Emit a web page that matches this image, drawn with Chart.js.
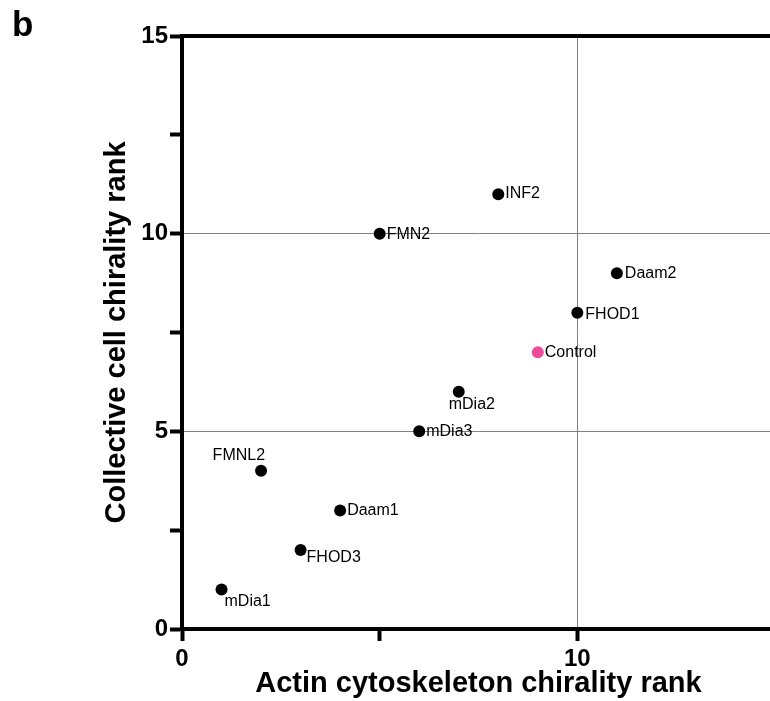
<!DOCTYPE html>
<html>
<head>
<meta charset="utf-8">
<script src="https://cdn.jsdelivr.net/npm/chart.js@4/dist/chart.umd.min.js"></script>
<style>
    html, body { margin: 0; padding: 0; background: #fff; overflow: hidden; }
    #wrap { width: 781px; height: 701px; }
</style>
</head>
<body>
<div id="wrap"><canvas id="myChart" width="781" height="701"></canvas></div>
<script>
const formins = ['mDia1', 'FMNL2', 'FHOD3', 'Daam1', 'FMN2', 'mDia3', 'mDia2', 'INF2', 'Control', 'FHOD1', 'Daam2'];
const actinRank = [1, 2, 3, 4, 5, 6, 7, 8, 9, 10, 11];
const cellRank = [1, 4, 2, 3, 10, 5, 6, 11, 7, 8, 9];
const xTickLabels = {0: '0', 10: '10'};
const yTickLabels = {0: '0', 5: '5', 10: '10', 15: '15'};

// where each name sits relative to its dot: dx, dy, align
const labelSpots = [
    [3, 12, 'left'], [4, -15, 'right'], [6, 8, 'left'], [7, 0, 'left'],
    [7, 1, 'left'], [7, 0, 'left'], [-10, 13, 'left'], [7, -1, 'left'],
    [7, 0, 'left'], [8, 2, 'left'], [8, 0, 'left']
];

const FONT = '"Liberation Sans", Arial, Helvetica, sans-serif';
Chart.defaults.font.family = FONT;
Chart.defaults.color = '#000';

const points = actinRank.map((x, i) => ({x: x, y: cellRank[i]}));

const nameLabels = {
    id: 'nameLabels',
    afterDatasetsDraw(chart) {
        const ctx = chart.ctx;
        const meta = chart.getDatasetMeta(0);
        ctx.save();
        ctx.font = '16px ' + FONT;
        ctx.fillStyle = '#000';
        ctx.textBaseline = 'middle';
        meta.data.forEach((pt, i) => {
            const s = labelSpots[i];
            ctx.textAlign = s[2];
            ctx.fillText(formins[i], pt.x + s[0], pt.y + s[1]);
        });
        ctx.restore();
    }
};

const frame = {
    id: 'frame',
    afterDraw(chart) {
        const ctx = chart.ctx;
        const area = chart.chartArea;
        ctx.save();
        ctx.strokeStyle = '#000';
        ctx.lineWidth = 4;
        ctx.beginPath();
        ctx.moveTo(area.left - 2, area.top);
        ctx.lineTo(chart.width, area.top);
        ctx.stroke();
        ctx.fillStyle = '#000';
        ctx.font = 'bold 35px ' + FONT;
        ctx.textAlign = 'left';
        ctx.textBaseline = 'alphabetic';
        ctx.fillText('b', 12, 36);
        ctx.restore();
    }
};

const ctx = document.getElementById('myChart').getContext('2d');
new Chart(ctx, {
    type: 'scatter',
    data: {
        datasets: [{
            data: points,
            pointRadius: 6,
            pointHoverRadius: 6,
            borderWidth: 0,
            backgroundColor: formins.map(n => n === 'Control' ? '#ef4b9b' : '#000')
        }]
    },
    options: {
        responsive: false,
        animation: false,
        layout: {padding: {top: 36, right: 1, left: 0, bottom: 0}},
        plugins: {legend: {display: false}, tooltip: {enabled: false}},
        scales: {
            x: {
                type: 'linear', min: 0, max: 15,
                afterFit: s => { s.height = 72; },
                afterBuildTicks: s => { s.ticks = [0, 5, 10, 15].map(v => ({value: v})); },
                ticks: {
                    autoSkip: false, maxRotation: 0, padding: 4,
                    font: {size: 24, weight: 'bold'},
                    callback: v => xTickLabels[v] ?? ''
                },
                grid: {
                    color: c => (c.tick && c.tick.value === 10) ? '#808080' : 'rgba(0,0,0,0)',
                    lineWidth: 1, tickLength: 12, tickWidth: 4, tickColor: '#000'
                },
                border: {display: true, width: 4, color: '#000'},
                title: {
                    display: true, text: 'Actin cytoskeleton chirality rank',
                    font: {size: 29, weight: 'bold'}, padding: {top: 0, bottom: 0}
                }
            },
            y: {
                type: 'linear', min: 0, max: 15,
                afterFit: s => { s.width = 182; },
                afterBuildTicks: s => { s.ticks = [0, 2.5, 5, 7.5, 10, 12.5, 15].map(v => ({value: v})); },
                ticks: {
                    autoSkip: false, padding: 2,
                    font: {size: 24, weight: 'bold'},
                    callback: v => yTickLabels[v] ?? ''
                },
                grid: {
                    color: c => (c.tick && (c.tick.value === 5 || c.tick.value === 10)) ? '#808080' : 'rgba(0,0,0,0)',
                    lineWidth: 1, tickLength: 12, tickWidth: 4, tickColor: '#000'
                },
                border: {display: true, width: 4, color: '#000'},
                title: {
                    display: true, text: 'Collective cell chirality rank',
                    font: {size: 29, weight: 'bold'}, padding: {top: 100, bottom: 0}
                }
            }
        }
    },
    plugins: [nameLabels, frame]
});
</script>
</body>
</html>
